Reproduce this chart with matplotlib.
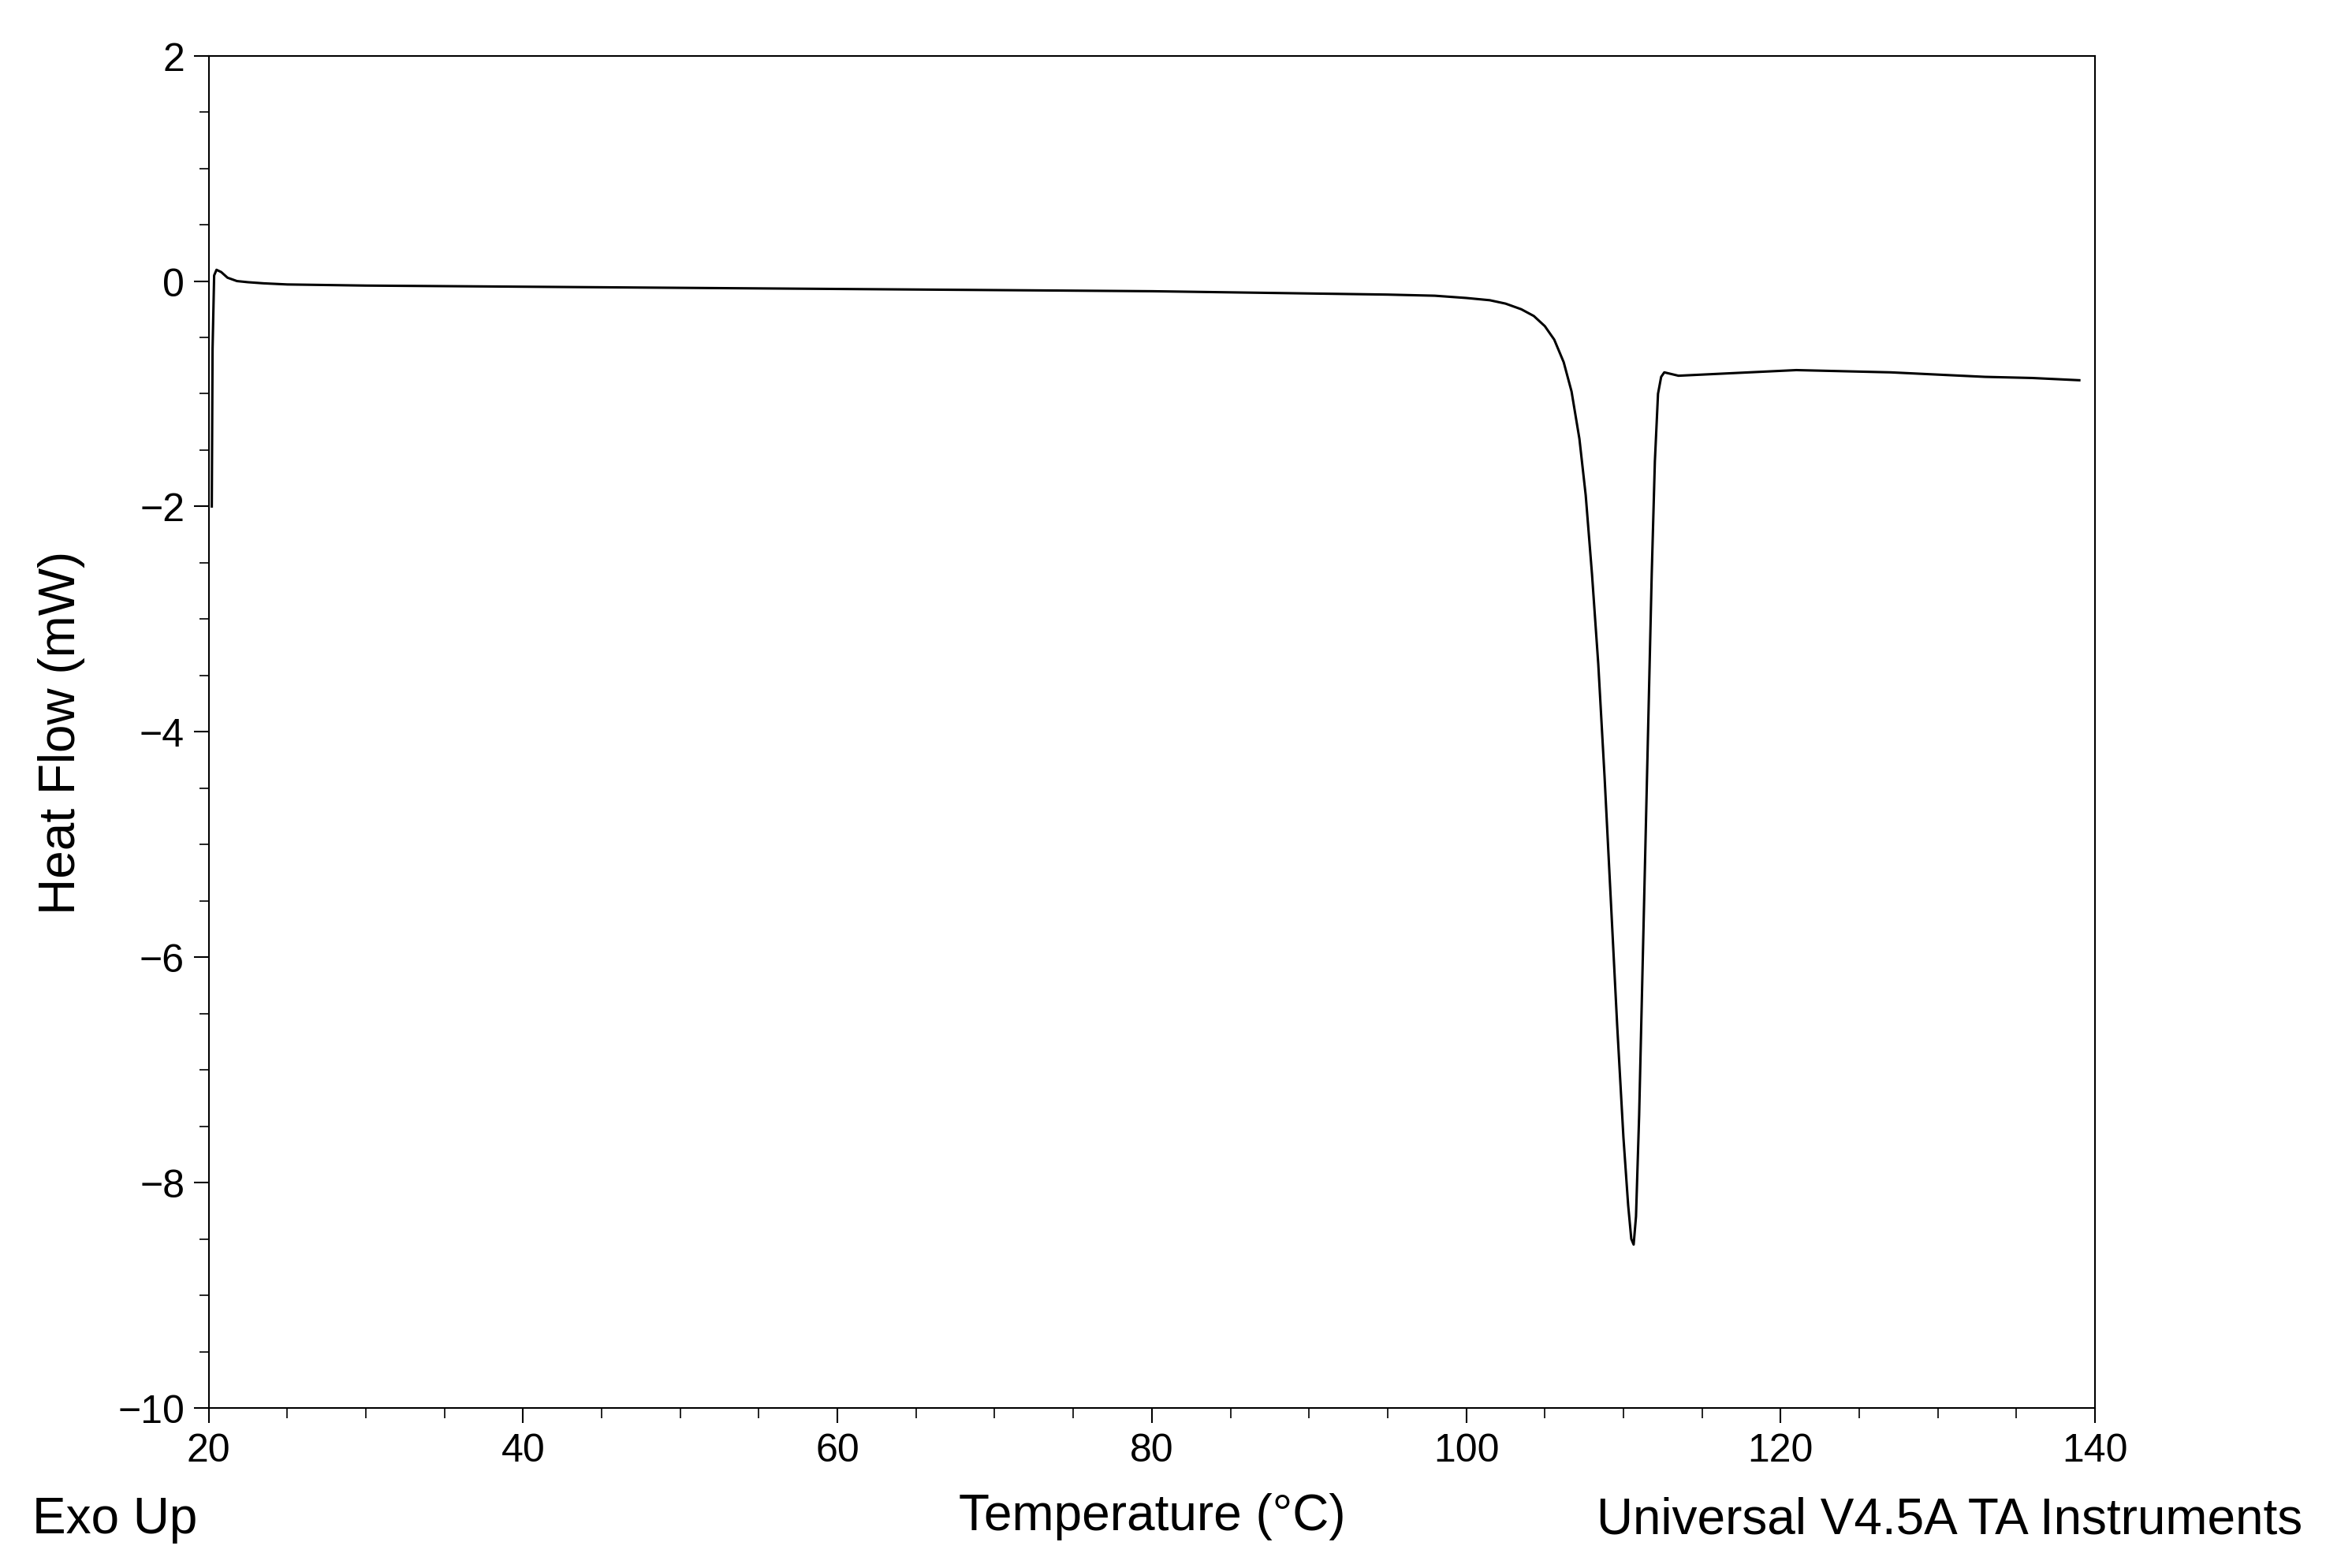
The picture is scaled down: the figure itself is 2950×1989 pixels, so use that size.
import matplotlib
matplotlib.use('Agg')
import matplotlib.pyplot as plt
from matplotlib.ticker import MultipleLocator

plt.rcParams['font.family'] = ['Liberation Sans', 'DejaVu Sans']

# DSC trace: temperature (°C), heat flow (mW)
temp = [20.2, 20.25, 20.35, 20.5, 20.8, 21.2, 21.8, 22.5, 23.5, 25, 30, 40, 50, 60, 70, 80, 90,
        95, 98, 100, 101.5, 102.5, 103.5, 104.3, 105, 105.6, 106.2, 106.7, 107.2, 107.6, 108.0,
        108.4, 108.8, 109.2, 109.6, 110.0, 110.3, 110.5, 110.65, 110.8, 111.0, 111.2, 111.4,
        111.6, 111.8, 112.0, 112.2, 112.4, 112.6, 112.9, 113.5, 115, 118, 121, 124, 127, 130,
        133, 136, 139]
heat = [-2.0, -0.6, 0.05, 0.1, 0.08, 0.03, 0.0, -0.01, -0.02, -0.03, -0.04, -0.05, -0.06,
        -0.07, -0.08, -0.09, -0.11, -0.12, -0.13, -0.15, -0.17, -0.2, -0.25, -0.31, -0.4, -0.52,
        -0.72, -0.98, -1.4, -1.9, -2.6, -3.4, -4.4, -5.5, -6.6, -7.6, -8.2, -8.5, -8.55, -8.3,
        -7.4, -6.2, -5.0, -3.8, -2.6, -1.6, -1.0, -0.85, -0.81, -0.82, -0.84, -0.83, -0.81,
        -0.79, -0.8, -0.81, -0.83, -0.85, -0.86, -0.88]

fig = plt.figure(figsize=(29.5, 19.9), dpi=100)
ax = fig.add_axes([0.0897, 0.102, 0.811, 0.862])
ax.plot(temp, heat, color='black', lw=2.2)

ax.set_xlim(20, 140)
ax.set_ylim(-10, 2)
ax.xaxis.set_major_locator(MultipleLocator(20))
ax.xaxis.set_minor_locator(MultipleLocator(5))
ax.yaxis.set_major_locator(MultipleLocator(2))
ax.yaxis.set_minor_locator(MultipleLocator(0.5))
ax.tick_params(which='major', direction='out', length=14, width=1.5, labelsize=36, pad=8)
ax.tick_params(which='minor', direction='out', length=9, width=1.2)
ax.tick_params(top=False, right=False)
for s in ax.spines.values():
    s.set_linewidth(1.5)

ax.set_xlabel('Temperature (°C)', fontsize=46, labelpad=22)
ax.set_ylabel('Heat Flow (mW)', fontsize=46, labelpad=30)

fig.text(0.014, 0.031, 'Exo Up', fontsize=46, va='center', ha='left')
fig.text(0.99, 0.031, 'Universal V4.5A TA Instruments', fontsize=46, va='center', ha='right')

fig.savefig('out.png', dpi=100, facecolor='white')
